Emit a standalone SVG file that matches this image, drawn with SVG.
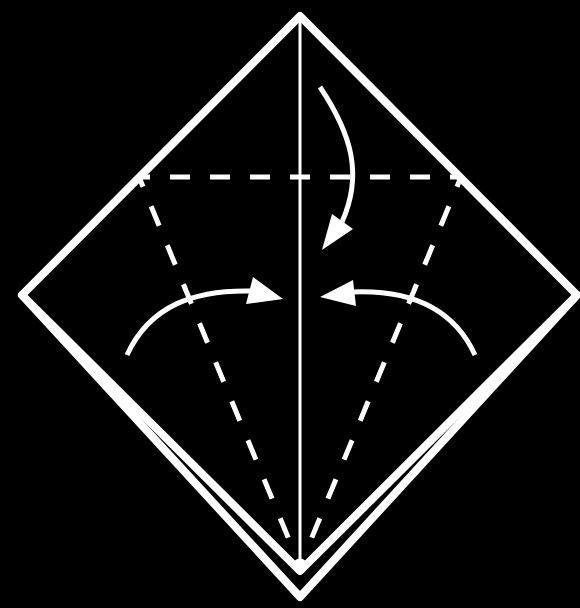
<svg xmlns="http://www.w3.org/2000/svg" width="580" height="608" viewBox="0 0 580 608">
<style>
.o{fill:none;stroke:#fff;stroke-width:8;stroke-linejoin:round;stroke-linecap:round}
.d{fill:none;stroke:#fff;stroke-width:5}
.a{fill:none;stroke:#fff;stroke-width:5}
.h{fill:#fff}
</style>
<rect width="580" height="608" fill="#000"/>
<g id="paper">
<path class="o" d="M22 295L300 16L577 295L300 597Z"/>
<path class="o" d="M22 295L300 571L577 295"/>
<line x1="300" y1="16" x2="300" y2="566" stroke="#fff" stroke-width="3"/>
<circle cx="300" cy="566" r="7.5" fill="#fff"/>
</g>
<g id="folds">
<line class="d" x1="140" y1="177" x2="460" y2="177" stroke-dasharray="20 20" stroke-dashoffset="10"/>
<line class="d" x1="139" y1="177" x2="290" y2="542" stroke-dasharray="21 21.2" stroke-dashoffset="10.5"/>
<line class="d" x1="461" y1="177" x2="310" y2="542" stroke-dasharray="21 21.2" stroke-dashoffset="10.5"/>
</g>
<g id="arrows">
<path class="a" d="M320 87C352 135 363 175 342 222"/>
<polygon class="h" points="322,250 332,214 353,229"/>
<path class="a" d="M127 355C150 305 195 290 250 291"/>
<polygon class="h" points="283,299 253,277 246,304"/>
<path class="a" d="M475 355C452 305 405 290 353 292"/>
<polygon class="h" points="320,297 353,280 356,306"/>
</g>
</svg>
